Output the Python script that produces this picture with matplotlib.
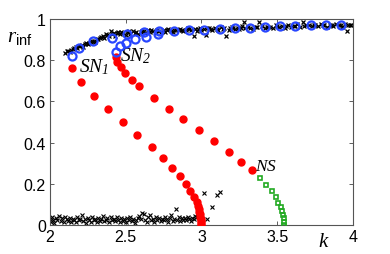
import matplotlib
matplotlib.use("Agg")
import matplotlib.pyplot as plt

plt.rcParams['font.family'] = ['Liberation Sans', 'DejaVu Sans']
plt.rcParams['mathtext.fontset'] = 'custom'
plt.rcParams['mathtext.it'] = 'Liberation Serif:italic'
plt.rcParams['mathtext.rm'] = 'Liberation Serif:italic'
plt.rcParams['mathtext.sf'] = 'Liberation Sans'

# --- data ---
# unstable branch from SN1 (red)
sn1_k = [2.145, 2.205, 2.29, 2.381, 2.48, 2.576, 2.673, 2.746, 2.807, 2.860, 2.898,
         2.926, 2.950, 2.968, 2.975, 2.981, 2.986, 2.990, 2.993, 2.996, 2.998, 2.999, 3.0]
sn1_r = [0.764, 0.696, 0.628, 0.565, 0.501, 0.437, 0.379, 0.324, 0.278, 0.236, 0.199,
         0.167, 0.137, 0.110, 0.093, 0.078, 0.064, 0.051, 0.040, 0.029, 0.019, 0.009, 0.0]
# unstable branch from SN2 to NS (red)
sn2_k = [2.434, 2.444, 2.467, 2.493, 2.539, 2.587, 2.684, 2.784, 2.881, 2.983, 3.084,
         3.183, 3.264, 3.331]
sn2_r = [0.814, 0.790, 0.766, 0.739, 0.705, 0.673, 0.616, 0.564, 0.512, 0.461, 0.408,
         0.354, 0.307, 0.265]
# branch after NS (green)
ns_k = [3.384, 3.428, 3.463, 3.490, 3.507, 3.523, 3.531, 3.538, 3.543, 3.545, 3.547]
ns_r = [0.227, 0.193, 0.164, 0.134, 0.108, 0.086, 0.066, 0.049, 0.033, 0.016, 0.0]
# stable branches (blue open circles)
st1_k = [2.145, 2.193, 2.284, 2.407, 2.508, 2.618, 2.717, 2.817, 2.917, 3.02, 3.12,
         3.22, 3.32, 3.42, 3.52, 3.62, 3.72, 3.82, 3.92]
st1_r = [0.822, 0.861, 0.893, 0.909, 0.929, 0.935, 0.940, 0.942, 0.946, 0.948, 0.953,
         0.956, 0.958, 0.961, 0.965, 0.966, 0.968, 0.970, 0.972]
st2_k = [2.434, 2.460, 2.504, 2.561, 2.632, 2.713]
st2_r = [0.838, 0.866, 0.885, 0.901, 0.914, 0.925]
# simulation points, upper band (black x)
simu_k = [2.10, 2.12, 2.13, 2.15, 2.16, 2.18, 2.19, 2.21, 2.22, 2.24, 2.25, 2.27, 2.28,
          2.30, 2.31, 2.33, 2.34, 2.36, 2.37, 2.39, 2.40, 2.42, 2.43, 2.45, 2.46, 2.48,
          2.50, 2.51, 2.53, 2.55, 2.56, 2.58, 2.60, 2.61, 2.63, 2.65, 2.66, 2.68, 2.70,
          2.71, 2.73, 2.75, 2.76, 2.78, 2.80, 2.81, 2.83, 2.85, 2.86, 2.88, 2.90, 2.91,
          2.95, 2.93, 2.96, 2.97, 2.99, 3.00, 3.02, 3.03, 3.05, 3.06, 3.07, 3.09, 3.11,
          3.13, 3.14, 3.16, 3.18, 3.19, 3.20, 3.22, 3.24, 3.25, 3.28, 3.27, 3.29, 3.31,
          3.34, 3.36, 3.38, 3.40, 3.42, 3.43, 3.45, 3.47, 3.49, 3.51, 3.53, 3.55, 3.57,
          3.59, 3.61, 3.63, 3.67, 3.65, 3.69, 3.71, 3.73, 3.75, 3.77, 3.79, 3.81, 3.83,
          3.85, 3.87, 3.89, 3.91, 3.93, 3.95, 3.96, 3.97, 3.99,
          2.11, 2.14, 2.17, 2.20, 2.23, 2.26, 2.29, 2.32, 2.35, 2.38, 2.41, 2.44, 2.47,
          2.52, 2.57, 2.62, 2.67, 2.72, 2.77, 2.82, 2.87, 2.92, 2.98, 3.04, 3.10, 3.15,
          3.21, 3.26, 3.32, 3.37, 3.44, 3.50, 3.56, 3.62, 3.68, 3.74, 3.80, 3.86, 3.92,
          3.98]
simu_r = [0.835, 0.845, 0.838, 0.852, 0.860, 0.858, 0.868, 0.872, 0.865, 0.882, 0.876, 0.888, 0.895,
          0.890, 0.902, 0.905, 0.912, 0.908, 0.925, 0.918, 0.940, 0.930, 0.915, 0.938, 0.925, 0.932,
          0.922, 0.935, 0.928, 0.940, 0.930, 0.926, 0.938, 0.942, 0.932, 0.945, 0.936, 0.940, 0.930,
          0.948, 0.938, 0.944, 0.935, 0.950, 0.942, 0.936, 0.948, 0.944, 0.952, 0.940, 0.946, 0.954,
          0.916, 0.944, 0.950, 0.942, 0.955, 0.948, 0.952, 0.922, 0.958, 0.950, 0.946, 0.954, 0.946,
          0.960, 0.950, 0.916, 0.948, 0.956, 0.962, 0.952, 0.958, 0.950, 0.987, 0.965, 0.955, 0.960,
          0.952, 0.962, 0.984, 0.966, 0.958, 0.960, 0.962, 0.956, 0.968, 0.960, 0.964, 0.958, 0.970,
          0.962, 0.966, 0.975, 0.987, 0.960, 0.968, 0.972, 0.964, 0.970, 0.966, 0.975, 0.968, 0.962,
          0.972, 0.966, 0.975, 0.969, 0.962, 0.974, 0.940, 0.968, 0.972,
          0.842, 0.848, 0.864, 0.870, 0.878, 0.884, 0.892, 0.900, 0.915, 0.920, 0.925, 0.930, 0.936,
          0.940, 0.936, 0.940, 0.944, 0.942, 0.946, 0.946, 0.948, 0.950, 0.950, 0.954, 0.952, 0.956,
          0.956, 0.958, 0.958, 0.960, 0.962, 0.964, 0.964, 0.966, 0.966, 0.968, 0.970, 0.970, 0.972,
          0.972]
# simulation points, lower band (black x)
siml_k = [2.00, 2.01, 2.015, 2.02, 2.03, 2.04, 2.05, 2.06, 2.07, 2.08, 2.09, 2.10, 2.11,
          2.12, 2.13, 2.14, 2.15, 2.16, 2.17, 2.18, 2.19, 2.20, 2.21, 2.22, 2.23, 2.24,
          2.25, 2.26, 2.27, 2.28, 2.29, 2.30, 2.31, 2.32, 2.33, 2.34, 2.35, 2.36, 2.37,
          2.38, 2.39, 2.40, 2.41, 2.42, 2.43, 2.44, 2.45, 2.46, 2.47, 2.48, 2.49, 2.50,
          2.51, 2.52, 2.53, 2.54, 2.55, 2.56, 2.57, 2.58, 2.59, 2.60, 2.61, 2.62, 2.63,
          2.64, 2.65, 2.66, 2.67, 2.68, 2.69, 2.70, 2.71, 2.72, 2.73, 2.74, 2.75, 2.76,
          2.77, 2.78, 2.79, 2.80, 2.81, 2.82, 2.83, 2.84, 2.85, 2.86, 2.87, 2.88, 2.89,
          2.90, 2.91, 2.92, 2.93, 2.94, 2.95, 2.96, 2.97, 3.02, 3.04, 3.07, 3.10, 3.12]
siml_r = [0.030, 0.015, 0.040, 0.022, 0.010, 0.035, 0.025, 0.045, 0.018, 0.032, 0.012, 0.040, 0.028,
          0.020, 0.035, 0.015, 0.030, 0.024, 0.012, 0.038, 0.022, 0.030, 0.050, 0.018, 0.028, 0.010,
          0.034, 0.022, 0.015, 0.040, 0.025, 0.030, 0.012, 0.036, 0.020, 0.028, 0.042, 0.018, 0.025,
          0.032, 0.014, 0.038, 0.022, 0.030, 0.018, 0.040, 0.026, 0.012, 0.034, 0.020, 0.028, 0.016,
          0.032, 0.024, 0.040, 0.018, 0.030, 0.010, 0.022, 0.035, 0.045, 0.028, 0.060, 0.055, 0.025,
          0.015, 0.038, 0.050, 0.022, 0.030, 0.012, 0.040, 0.026, 0.034, 0.018, 0.030, 0.022, 0.040,
          0.028, 0.015, 0.035, 0.048, 0.020, 0.030, 0.076, 0.025, 0.040, 0.018, 0.032, 0.022, 0.036,
          0.026, 0.040, 0.030, 0.018, 0.035, 0.028, 0.045, 0.038, 0.155, 0.030, 0.086, 0.146, 0.159]

fig = plt.figure(figsize=(3.9, 2.55), dpi=100)
ax = fig.add_axes([0.128, 0.114, 0.777, 0.808])

ax.plot(simu_k, simu_r, 'x', color='black', ms=3.4, mew=0.9, zorder=2)
ax.plot(siml_k, siml_r, 'x', color='black', ms=3.2, mew=0.8, zorder=2)
ax.plot(sn1_k, sn1_r, 'o', color='#ff0000', ms=5.0, mec='#ff0000', zorder=3)
ax.plot(sn2_k, sn2_r, 'o', color='#ff0000', ms=5.0, mec='#ff0000', zorder=3)
ax.plot(ns_k, ns_r, 's', mfc='none', mec='#22aa22', ms=3.4, mew=1.2, zorder=3)
ax.plot(st1_k, st1_r, 'o', mfc='none', mec='#2846ff', ms=5.8, mew=1.6, zorder=4)
ax.plot(st2_k, st2_r, 'o', mfc='none', mec='#2846ff', ms=5.8, mew=1.6, zorder=4)

ax.set_xlim(2, 4)
ax.set_ylim(0, 1)
ax.set_xticks([2, 2.5, 3, 3.5, 4])
ax.set_xticklabels(['2', '2.5', '3', '3.5', '4'])
ax.set_yticks([0, 0.2, 0.4, 0.6, 0.8, 1])
ax.set_yticklabels(['0', '0.2', '0.4', '0.6', '0.8', '1'])
ax.tick_params(direction='in', top=True, right=True, length=3, width=0.6,
               labelsize=11.5, pad=3, color='#444444')
for s in ax.spines.values():
    s.set_color('#555555')
    s.set_linewidth(0.8)

ax.text(3.81, -0.075, r'$k$', fontsize=15, ha='center', va='center',
        transform=ax.transData, clip_on=False)
ax.text(-0.10, 0.915, r'$r_{\mathsf{inf}}$', fontsize=15, ha='center', va='center',
        transform=ax.transAxes, clip_on=False)
ax.text(2.195, 0.745, r'$SN_{1}$', fontsize=14, ha='left', va='baseline')
ax.text(2.465, 0.8, r'$SN_{2}$', fontsize=14, ha='left', va='baseline')
ax.text(3.352, 0.268, r'$NS$', fontsize=12.5, ha='left', va='baseline')

fig.savefig('out.png', dpi=100)
